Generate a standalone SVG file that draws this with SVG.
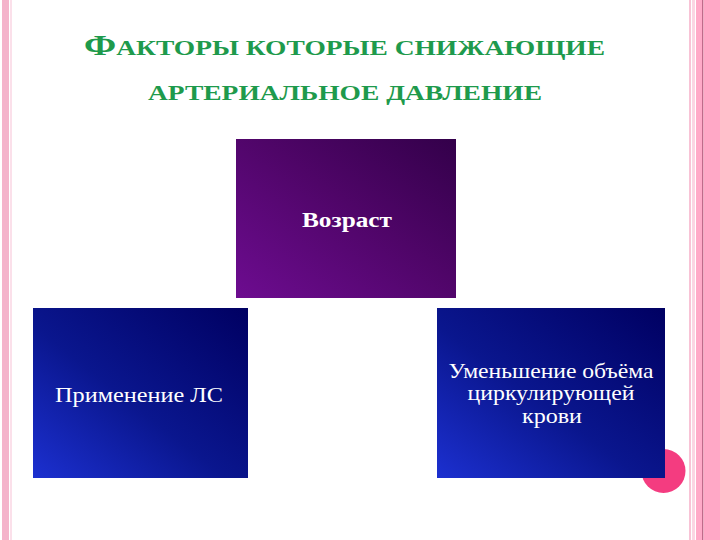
<svg xmlns="http://www.w3.org/2000/svg" width="720" height="540" viewBox="0 0 720 540">
  <defs>
    <linearGradient id="gPurple" x1="0" y1="1" x2="1" y2="0">
      <stop offset="0" stop-color="#6d0c90"/>
      <stop offset="0.55" stop-color="#4f0568"/>
      <stop offset="1" stop-color="#33004a"/>
    </linearGradient>
    <linearGradient id="gBlue" x1="0" y1="1" x2="1" y2="0">
      <stop offset="0" stop-color="#1c30d0"/>
      <stop offset="0.45" stop-color="#0a168e"/>
      <stop offset="1" stop-color="#000062"/>
    </linearGradient>
    <style>
      .title { font-family: "Liberation Serif", "DejaVu Serif", serif; fill: #1e9a4c; font-weight: bold; }
      .lbl { font-family: "Liberation Serif", "DejaVu Serif", serif; fill: #ffffff; font-size: 21px; text-anchor: middle; }
    </style>
  </defs>
  <rect width="720" height="540" fill="#ffffff"/>
  <!-- decorative borders -->
  <g id="border">
    <rect x="2" y="0" width="7" height="540" fill="#f4b3cb"/>
    <rect x="10" y="0" width="2" height="540" fill="#fbe0ea"/>
    <rect x="689" y="0" width="2" height="540" fill="#f8c3d6"/>
    <rect x="692" y="0" width="3" height="540" fill="#fbd5e3"/>
    <rect x="696" y="0" width="6" height="540" fill="#ffaac8"/>
    <rect x="702" y="0" width="1.5" height="540" fill="#c06a8a"/>
    <rect x="703.5" y="0" width="16.5" height="540" fill="#ffa8c6"/>
  </g>
  <g id="title">
    <text class="title" x="84" y="55" font-size="22" textLength="521" lengthAdjust="spacingAndGlyphs"><tspan font-size="30">Ф</tspan>АКТОРЫ КОТОРЫЕ СНИЖАЮЩИЕ</text>
    <text class="title" x="148" y="100" font-size="22" textLength="394" lengthAdjust="spacingAndGlyphs">АРТЕРИАЛЬНОЕ ДАВЛЕНИЕ</text>
  </g>
  <circle id="dot" cx="663.5" cy="471" r="22" fill="#f43c80"/>
  <g id="connectors"></g>
  <g id="node-age">
    <rect x="236" y="139" width="220" height="159" fill="url(#gPurple)"/>
    <text class="lbl" x="347" y="227" font-weight="bold" textLength="90" lengthAdjust="spacingAndGlyphs">Возраст</text>
  </g>
  <g id="node-drugs">
    <rect x="33" y="308" width="215" height="170" fill="url(#gBlue)"/>
    <text class="lbl" x="139" y="402" textLength="168" lengthAdjust="spacingAndGlyphs">Применение ЛС</text>
  </g>
  <g id="node-volume">
    <rect x="437" y="308" width="228" height="170" fill="url(#gBlue)"/>
    <text class="lbl" x="551" y="378" textLength="205" lengthAdjust="spacingAndGlyphs">Уменьшение объёма</text>
    <text class="lbl" x="551" y="400" textLength="167" lengthAdjust="spacingAndGlyphs">циркулирующей</text>
    <text class="lbl" x="552" y="423" textLength="60" lengthAdjust="spacingAndGlyphs">крови</text>
  </g>
</svg>
